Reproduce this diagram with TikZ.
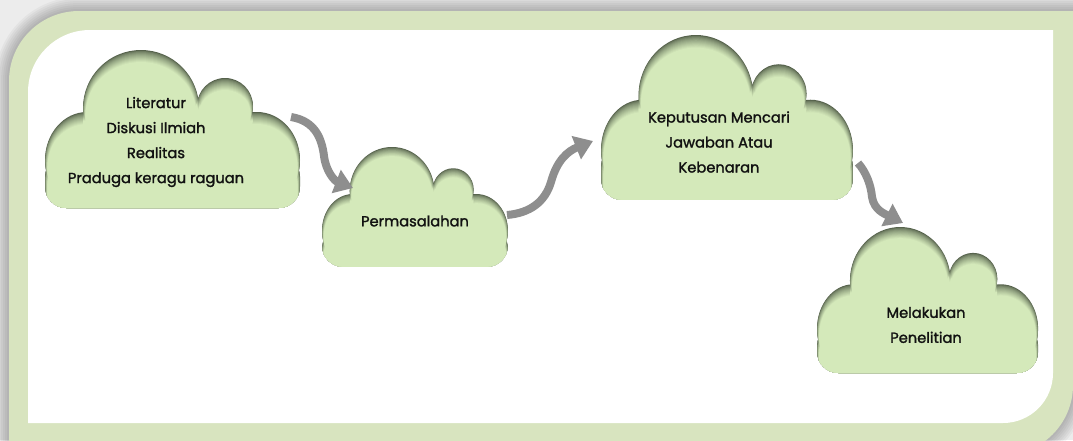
\documentclass[tikz,border=0pt]{standalone}
\usepackage{fontspec}
\setmainfont{Poppins}
\newfontfamily\cfont{Poppins}[FakeBold=1.6]
\usetikzlibrary{arrows.meta}
\definecolor{framegreen}{HTML}{D8E4BF}
\definecolor{cloudfill}{HTML}{D4E9BA}
\definecolor{cloudsh}{HTML}{56624C}
\definecolor{arrowgray}{HTML}{8E8E8E}
\definecolor{bggray}{HTML}{ECECEC}
\definecolor{textblack}{HTML}{111111}
\newcommand\cloudshape{(96,58) circle[radius=58] (180,56) circle[radius=28] (42,110) ellipse[x radius=42,y radius=48] (212,110) ellipse[x radius=43,y radius=48] (210,65) rectangle (40,158) [rounded corners=16pt] (255,105) rectangle (0,158)}
\newcommand\framepath[1]{(9-#1,455+#1) -- (9-#1,81) arc[start angle=180,end angle=270,radius=70+#1] -- (1073+#1,11-#1) -- (1073+#1,385) arc[start angle=0,end angle=90,radius=70+#1] -- cycle}
\newcommand\drawcloud[4]{%
  \begin{scope}[shift={(#1,#2)},xscale=#3,yscale=#4]
    \begin{scope}
      \clip \cloudshape;
      \fill[cloudsh] (-20,-20) rectangle (280,180);
      \foreach \i in {1,...,12}{%
        \pgfmathsetmacro\pp{min(100,100*(\i/12)^0.7)}%
        \begin{scope}
          \clip[shift={(0,\i)}] \cloudshape;
          \clip[shift={(0.2*\i,0.7*\i)}] \cloudshape;
          \clip[shift={(-0.2*\i,0.7*\i)}] \cloudshape;
          \fill[cloudfill!\pp!cloudsh] (-20,-20) rectangle (280,180);
        \end{scope}
      }
    \end{scope}
  \end{scope}}
\tikzset{
  ctext/.style={align=center,text=textblack,font=\cfont\fontsize{11}{18.75}\selectfont,inner sep=0pt},
  arr/.style={draw=arrowgray,line width=6pt,-{Triangle[length=13.5pt,width=18pt]}},
}
\begin{document}
\begin{tikzpicture}[x=0.75pt,y=-0.75pt]
\useasboundingbox (0,0) rectangle (1073,440);
\fill[bggray] (0,0) rectangle (1073,440);
% frame shadow
\foreach \k in {14,12,...,2}{\fill[black,opacity=0.035] \framepath{\k};}
% frame
\fill[framegreen] \framepath{0};
% inner white panel
\fill[white] (28,423) -- (28,92) arc[start angle=180,end angle=270,radius=62] -- (1053,30) -- (1053,373) arc[start angle=0,end angle=90,radius=50] -- cycle;
% clouds
\drawcloud{45}{50}{1}{1}
\drawcloud{322}{147}{0.729}{0.759}
\drawcloud{601}{35}{0.988}{1.044}
\drawcloud{817}{227}{0.867}{0.924}
% texts
\node[ctext] (c1) at (156,142) {Literatur\\Diskusi Ilmiah\\Realitas\\Praduga keragu raguan};
\node[ctext] (c2) at (415,221) {Permasalahan};
\node[ctext] (c3) at (719,142) {Keputusan Mencari\\Jawaban Atau\\Kebenaran};
\node[ctext] (c4) at (926,325) {Melakukan\\Penelitian};
% arrow end points
\coordinate (a1s) at (291,117);
\coordinate (a1e) at (353,188);
\coordinate (a2s) at (507,215);
\coordinate (a2e) at (593,141);
\coordinate (a3s) at (858,163);
\coordinate (a3e) at (903,223);
\draw[arr] (a1s) .. controls (316,121) and (322,140) .. (324,156) .. controls (326,172) and (335,181) .. (a1e);
\draw[arr] (a2s) .. controls (530,213) and (545,202) .. (551,182) .. controls (557,160) and (568,151) .. (a2e);
\draw[arr] (a3s) .. controls (866,172) and (871,185) .. (872,197) .. controls (874,210) and (885,214) .. (a3e);
\end{tikzpicture}
\end{document}
